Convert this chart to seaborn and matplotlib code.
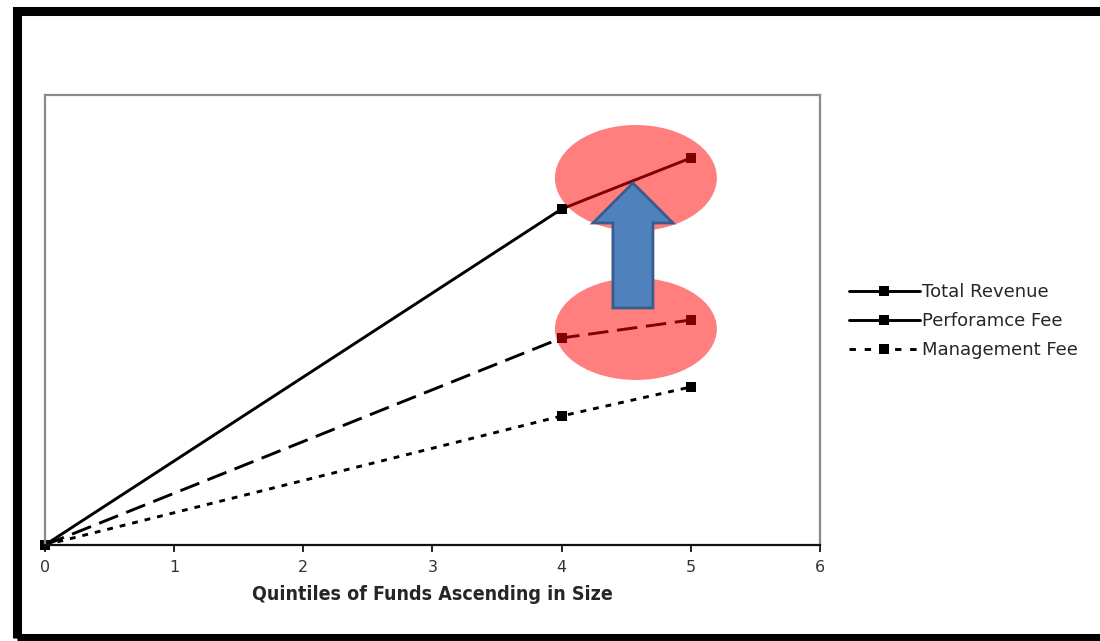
import matplotlib
matplotlib.use("Agg")
import matplotlib.pyplot as plt
from matplotlib.lines import Line2D
from matplotlib.patches import Ellipse, Polygon, Rectangle
import pandas as pd
import seaborn as sns

# Fund-size quintiles and revenue components (arbitrary units)
quintiles = [0, 4, 5]
total_revenue = [0.0, 33.6, 38.7]
performance_fee = [0.0, 20.7, 22.5]
management_fee = [0.0, 12.9, 15.8]

series_names = ["Total Revenue", "Perforamce Fee", "Management Fee"]
x_ticks = [0, 1, 2, 3, 4, 5, 6]
x_label = "Quintiles of Funds Ascending in Size"

df = pd.DataFrame({
    "quintile": quintiles * 3,
    "value": total_revenue + performance_fee + management_fee,
    "series": [series_names[0]] * 3 + [series_names[1]] * 3 + [series_names[2]] * 3,
})

sns.set_theme(style="white")
plt.rcParams["font.family"] = ["DejaVu Sans"]

fig = plt.figure(figsize=(11, 6.41), dpi=100)
fig.patch.set_facecolor("white")
ax = fig.add_axes([0.0409, 0.1498, 0.7045, 0.702])

line_dashes = {
    series_names[0]: "",
    series_names[1]: (7, 3),
    series_names[2]: (2.0, 2.4),
}
sns.lineplot(
    data=df, x="quintile", y="value", hue="series", style="series",
    palette=["black"] * 3, dashes=line_dashes, markers=["s"] * 3,
    markersize=7.5, markeredgewidth=0, linewidth=2.1, ax=ax, legend=False,
)
for ln in ax.lines:
    ln.set_clip_on(False)

ax.set_xlim(0, 6)
ax.set_ylim(0, 45)
ax.set_xticks(x_ticks)
ax.set_xticklabels([str(t) for t in x_ticks], fontsize=11.5, color="#333333")
ax.set_yticks([])
ax.set_ylabel("")
ax.set_xlabel(x_label, fontsize=14, fontweight="bold",
              fontstretch="condensed", labelpad=7)
ax.tick_params(axis="x", direction="out", length=5, width=1.2, color="black",
               bottom=True, pad=6)
for side in ["left", "top", "right"]:
    ax.spines[side].set_color("#8a8a8a")
    ax.spines[side].set_linewidth(1.6)
ax.spines["bottom"].set_color("#111111")
ax.spines["bottom"].set_linewidth(1.6)

# Highlight the rise between the two largest quintiles
for cy, h in [(36.7, 10.6), (21.6, 10.2)]:
    ax.add_patch(Ellipse((4.575, cy), 1.254, h, facecolor="red", alpha=0.5,
                         edgecolor="none", zorder=5))

arrow_pts = [
    (4.397, 23.7), (4.707, 23.7), (4.707, 32.2), (4.862, 32.2),
    (4.552, 36.2), (4.243, 32.2), (4.397, 32.2),
]
ax.add_patch(Polygon(arrow_pts, closed=True, facecolor="#4F81BD",
                     edgecolor="#385D8A", linewidth=2, zorder=6))

# Legend
handles = [
    Line2D([], [], color="black", lw=2.1, marker="s", markersize=7.5, markeredgewidth=0),
    Line2D([], [], color="black", lw=2.1, marker="s", markersize=7.5, markeredgewidth=0),
    Line2D([], [], color="black", lw=2.1, marker="s", markersize=7.5, markeredgewidth=0,
           dashes=(2.2, 3.0)),
]
fig.legend(handles, series_names, loc="upper left",
           bbox_to_anchor=(0.772, 1 - 283 / 641), frameon=False, fontsize=13,
           handlelength=3.9, handletextpad=0.15, labelspacing=0.62,
           borderaxespad=0, borderpad=0)

# Outer frame
fig.add_artist(Rectangle((17.5 / 1100, (641 - 637.5) / 641), 1.2, (637.5 - 10.5) / 641,
                         transform=fig.transFigure, fill=False,
                         edgecolor="black", linewidth=6.5, zorder=10))

fig.savefig("out.png", dpi=100, facecolor="white")
